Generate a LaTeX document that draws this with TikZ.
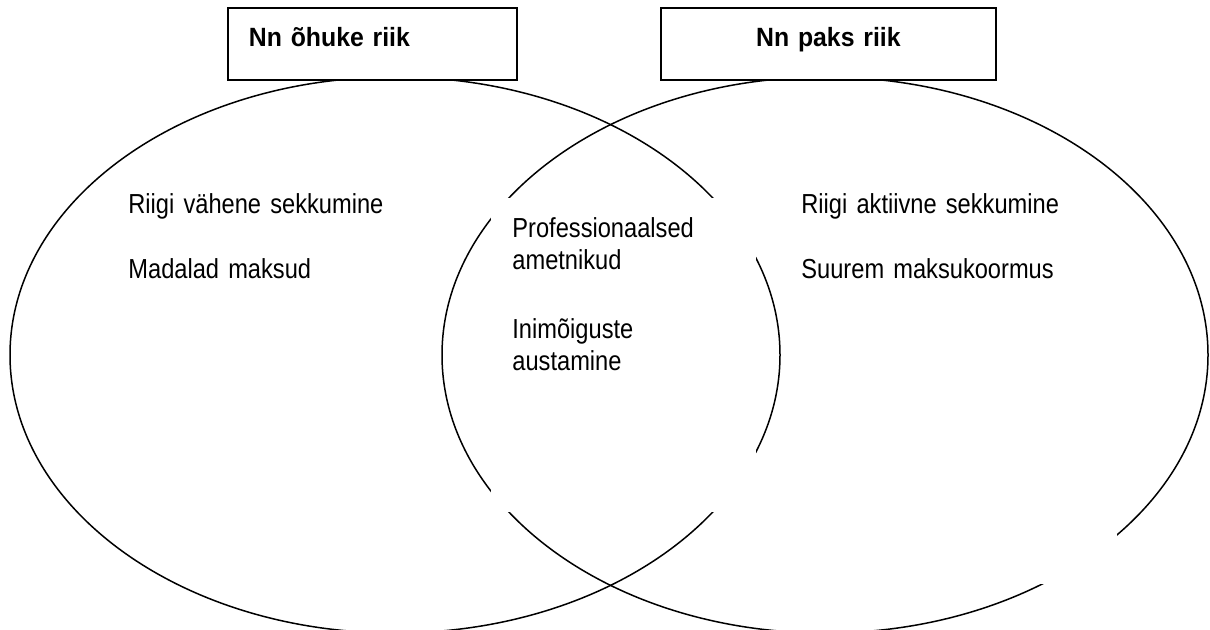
\documentclass[tikz,border=0pt]{standalone}
\usepackage{fontspec}
\setmainfont{Liberation Sans}
\newfontfamily\listfont{Liberation Sans}[FakeStretch=0.86,WordSpace=0.86]
\newfontfamily\titlefont{Liberation Sans}[FakeStretch=0.94,WordSpace=0.94]

\begin{document}
\begin{tikzpicture}[x=0.5pt,y=-0.5pt,ring/.style = {draw, line width=0.75pt},
 titlebox/.style = {draw, line width=0.9pt, fill=white, anchor=north west, inner ysep=0pt, inner xsep=10.5pt, text height=19.5pt, text depth=16.5pt, font=\titlefont\bfseries\fontsize{13.2}{15}\selectfont},
 listbox/.style = {fill=white, anchor=north west, inner ysep=0pt, font=\listfont\fontsize{13.75}{16}\selectfont, align=left},]
\useasboundingbox (0,0) rectangle (1210,630);
%Drawing the two sets
\draw[ring] (395,355) ellipse [x radius=385, y radius=278];
\draw[ring] (825,355) ellipse [x radius=383, y radius=278];
%Texts of the sets
\node (thinlist) at (110,185)[listbox,inner xsep=9pt,text width=142pt,text height=14pt,text depth=43.5pt] {Riigi vähene sekkumine\\[16.5pt]Madalad maksud};
\node (bothlist) at (491,198)[listbox,inner xsep=10.5pt,text width=111.5pt,text height=19.5pt,text depth=137.5pt] {Professionaalsed\\ametnikud\\[18.5pt]Inimõiguste\\austamine};
\node (thicklist) at (790,185)[listbox,inner xsep=5.5pt,text width=152.5pt,text height=14pt,text depth=185.5pt] {Riigi aktiivne sekkumine\\[16.5pt]Suurem maksukoormus};
%Titles
\node (thin) at (227,7)[titlebox,text width=123.5pt,align=left] {Nn õhuke riik};
\node (thick) at (660,7)[titlebox,text width=146.5pt,align=center] {Nn paks riik};
\end{tikzpicture}
\end{document}
